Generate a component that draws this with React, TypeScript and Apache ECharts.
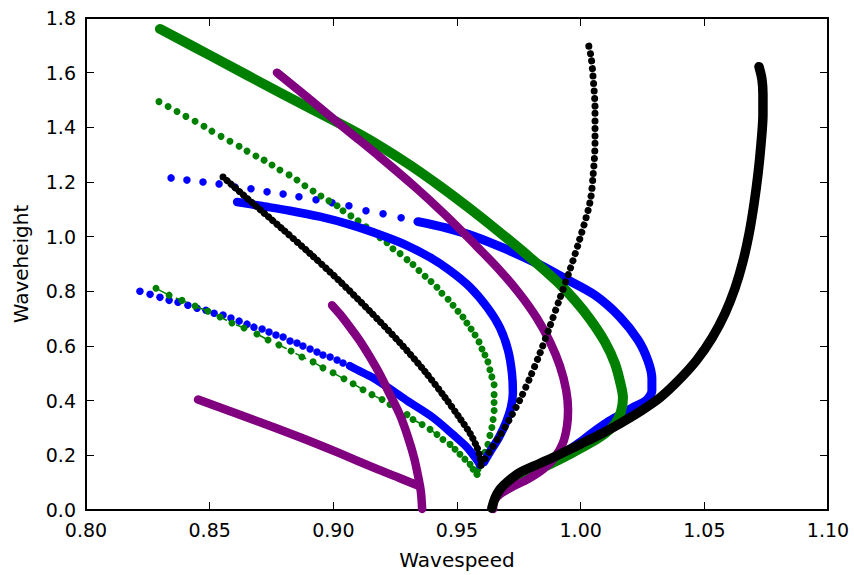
import React, { useEffect, useRef } from "react";
import * as echarts from "echarts";

const xTickLabels = ["0.80", "0.85", "0.90", "0.95", "1.00", "1.05", "1.10"];
const yTickLabels = ["0.0", "0.2", "0.4", "0.6", "0.8", "1.0", "1.2", "1.4", "1.6", "1.8"];

// Blue: sparse lower branch dots
const blueLowerDots = [
  [0.8218, 0.8], [0.8259, 0.789], [0.8299, 0.778], [0.8336, 0.767], [0.8372, 0.76], [0.8412, 0.749],
  [0.8449, 0.738], [0.8485, 0.731], [0.8518, 0.72], [0.8554, 0.713], [0.8586, 0.702], [0.8619, 0.691],
  [0.8651, 0.68], [0.8679, 0.669], [0.8712, 0.662], [0.874, 0.651], [0.8768, 0.64], [0.8797, 0.633],
  [0.8825, 0.618], [0.8853, 0.611], [0.8877, 0.6], [0.8906, 0.589], [0.8934, 0.578], [0.8958, 0.567],
  [0.8987, 0.56], [0.9015, 0.549], [0.9039, 0.538], [0.9067, 0.527],
];
// Blue: dense continuation of lower branch
const blueLowerDense = [
  [0.9067, 0.527], [0.9096, 0.513], [0.916, 0.484], [0.9241, 0.436], [0.9298, 0.4], [0.9403, 0.338],
  [0.9484, 0.276], [0.9541, 0.229], [0.9581, 0.182], [0.9592, 0.165],
];
// Blue: middle branch
const blueMiddle = [
  [0.8611, 1.127], [0.8704, 1.113], [0.8825, 1.095], [0.8946, 1.073], [0.9067, 1.044], [0.9189, 1.007],
  [0.929, 0.971], [0.9391, 0.924], [0.9472, 0.876], [0.9553, 0.815], [0.9625, 0.738], [0.9674, 0.666],
  [0.9706, 0.586], [0.9722, 0.502], [0.9726, 0.429], [0.9718, 0.375], [0.9698, 0.32], [0.967, 0.266],
  [0.9637, 0.218], [0.9609, 0.175],
];
// Blue: upper branch, sparse head
const blueUpperDots = [
  [0.8344, 1.215], [0.8408, 1.207], [0.8473, 1.2], [0.8538, 1.193], [0.8602, 1.182], [0.8667, 1.175],
  [0.8732, 1.164], [0.8797, 1.156], [0.8861, 1.146], [0.893, 1.135], [0.8995, 1.124], [0.9063, 1.113],
  [0.9132, 1.095], [0.9201, 1.084], [0.9274, 1.069],
];
// Blue: upper branch, dense body
const blueUpperDense = [
  [0.9342, 1.055], [0.9452, 1.033], [0.9573, 1.0], [0.9694, 0.956], [0.9815, 0.906], [0.9937, 0.847],
  [1.0058, 0.786], [1.0159, 0.706], [1.0232, 0.622], [1.0272, 0.546], [1.0288, 0.48], [1.0288, 0.436],
  [1.0272, 0.407], [1.0252, 0.393], [1.0212, 0.375], [1.0171, 0.353], [1.0107, 0.32], [1.005, 0.284],
  [0.9997, 0.247], [0.9957, 0.222], [0.9916, 0.2],
];

// Green: lower sparse branch
const greenLowerDots = [
  [0.8283, 0.811], [0.8336, 0.786], [0.8388, 0.767], [0.8441, 0.746], [0.8493, 0.727], [0.8542, 0.706],
  [0.859, 0.684], [0.8639, 0.666], [0.8691, 0.644], [0.8736, 0.622], [0.878, 0.604], [0.8829, 0.582],
  [0.8873, 0.56], [0.8918, 0.542], [0.8958, 0.52], [0.8999, 0.502], [0.9043, 0.48], [0.908, 0.462],
  [0.912, 0.44], [0.9156, 0.422], [0.9197, 0.404], [0.9229, 0.386], [0.9261, 0.367], [0.9298, 0.349],
  [0.9322, 0.331], [0.9359, 0.313], [0.9391, 0.295], [0.9419, 0.276], [0.9443, 0.258], [0.9472, 0.24],
  [0.9492, 0.222], [0.9512, 0.204], [0.9532, 0.186], [0.9553, 0.167], [0.9565, 0.149], [0.9581, 0.131],
];
// Green: upper sparse branch
const greenUpperDots = [
  [0.8295, 1.494], [0.8332, 1.476], [0.8368, 1.458], [0.8404, 1.44], [0.8441, 1.422], [0.8477, 1.404],
  [0.8509, 1.386], [0.8546, 1.367], [0.8582, 1.349], [0.8619, 1.331], [0.8651, 1.313], [0.8687, 1.295],
  [0.872, 1.28], [0.8752, 1.262], [0.8784, 1.244], [0.8821, 1.226], [0.8853, 1.207], [0.8885, 1.186],
  [0.8918, 1.167], [0.895, 1.149], [0.8982, 1.131], [0.9015, 1.113], [0.9039, 1.095], [0.9071, 1.076],
  [0.91, 1.058], [0.9132, 1.036], [0.916, 1.018], [0.9189, 0.996], [0.9217, 0.978], [0.9241, 0.956],
  [0.927, 0.938], [0.9298, 0.916], [0.9322, 0.898], [0.9346, 0.876], [0.9371, 0.855], [0.9395, 0.836],
  [0.9419, 0.815], [0.9439, 0.793], [0.9464, 0.771], [0.9484, 0.749], [0.9504, 0.727], [0.9524, 0.706],
  [0.954, 0.684], [0.9557, 0.662], [0.9573, 0.64], [0.9589, 0.615], [0.9601, 0.589], [0.9613, 0.567],
  [0.9625, 0.542], [0.9633, 0.513], [0.9641, 0.487], [0.965, 0.458], [0.965, 0.422], [0.965, 0.393],
  [0.965, 0.364], [0.9646, 0.331], [0.9641, 0.302], [0.9633, 0.273], [0.9625, 0.24], [0.9613, 0.211],
  [0.9601, 0.182], [0.9585, 0.149], [0.9581, 0.131],
];
// Green: thick dense branch
const greenThick = [
  [0.8299, 1.76], [0.8513, 1.658], [0.8784, 1.527], [0.9108, 1.374], [0.9298, 1.269], [0.9431, 1.185],
  [0.9553, 1.102], [0.9674, 1.015], [0.9795, 0.924], [0.9904, 0.836], [0.9977, 0.767], [1.0038, 0.698],
  [1.0098, 0.615], [1.0139, 0.535], [1.0163, 0.455], [1.0171, 0.411], [1.0163, 0.36], [1.0139, 0.315],
  [1.0098, 0.28], [1.0038, 0.245], [0.9957, 0.205], [0.9876, 0.168], [0.9795, 0.132], [0.9755, 0.115],
];

// Purple branches
const purpleLeft = [
  [0.8453, 0.404], [0.8663, 0.335], [0.8865, 0.266], [0.9027, 0.207], [0.9168, 0.153], [0.927, 0.116],
  [0.935, 0.087],
];
const purpleMid = [
  [0.8995, 0.749], [0.9027, 0.716], [0.9067, 0.669], [0.9108, 0.618], [0.9148, 0.56], [0.9189, 0.495],
  [0.9229, 0.422], [0.927, 0.346], [0.9302, 0.266], [0.9326, 0.193], [0.9342, 0.127], [0.9354, 0.066],
  [0.9359, 0.004],
];
const purpleThick = [
  [0.8772, 1.6], [0.8906, 1.502], [0.9047, 1.396], [0.9189, 1.291], [0.933, 1.182], [0.9452, 1.08],
  [0.9573, 0.971], [0.9674, 0.876], [0.9755, 0.789], [0.9823, 0.702], [0.9876, 0.615], [0.9916, 0.527],
  [0.9941, 0.44], [0.9949, 0.367], [0.9945, 0.309], [0.9929, 0.247], [0.9896, 0.193], [0.9848, 0.149],
  [0.9787, 0.113], [0.9722, 0.084], [0.9674, 0.058], [0.965, 0.033], [0.9646, 0.004],
];

// Black branches
const blackDown = [
  [0.8554, 1.218], [0.8663, 1.131], [0.8784, 1.036], [0.8906, 0.938], [0.9027, 0.836], [0.9148, 0.727],
  [0.927, 0.611], [0.9371, 0.506], [0.9452, 0.411], [0.9512, 0.335], [0.9553, 0.28], [0.9581, 0.229],
  [0.9593, 0.193], [0.9597, 0.164],
];
const blackUp = [
  [0.9597, 0.164], [0.9633, 0.215], [0.9674, 0.273], [0.9714, 0.335], [0.9755, 0.404], [0.9795, 0.484],
  [0.9836, 0.575], [0.9876, 0.673], [0.9916, 0.775], [0.9957, 0.88], [0.9997, 0.993], [1.0038, 1.127],
  [1.005, 1.222], [1.0058, 1.346], [1.0058, 1.466], [1.005, 1.586], [1.0042, 1.658], [1.003, 1.709],
];
const blackThick = [
  [0.9641, 0.007], [0.9654, 0.044], [0.9674, 0.076], [0.9706, 0.105], [0.9755, 0.138], [0.9836, 0.171],
  [0.9916, 0.204], [0.9997, 0.24], [1.0078, 0.276], [1.0159, 0.316], [1.024, 0.36], [1.0321, 0.411],
  [1.0402, 0.48], [1.047, 0.549], [1.0531, 0.629], [1.0584, 0.72], [1.0624, 0.811], [1.0656, 0.909],
  [1.0681, 1.011], [1.0701, 1.12], [1.0717, 1.229], [1.0729, 1.338], [1.0737, 1.447], [1.0737, 1.52],
  [1.0733, 1.575], [1.0721, 1.622],
];

const BLUE = "#0000ff";
const GREEN = "#008000";
const PURPLE = "#800080";
const BLACK = "#000000";
const FONT = "DejaVu Sans";

function thick(data: number[][], color: string, width: number) {
  return {
    type: "line",
    data,
    smooth: 0.3,
    symbol: "none",
    showSymbol: false,
    lineStyle: { color, width, cap: "round", join: "round" },
  };
}
function dotted(data: number[][], color: string, width: number, gap: number) {
  return {
    type: "line",
    data,
    smooth: 0.3,
    symbol: "none",
    showSymbol: false,
    lineStyle: { color, width, cap: "round", join: "round", type: [0.001, gap] },
  };
}
function dots(data: number[][], color: string, size: number) {
  return {
    type: "scatter",
    data,
    symbol: "circle",
    symbolSize: size,
    itemStyle: { color, opacity: 1 },
  };
}

export default function App() {
  const ref = useRef<HTMLDivElement>(null);
  useEffect(() => {
    if (!ref.current) return;
    const chart = echarts.init(ref.current, undefined, { renderer: "svg" });
    const axisCommon = {
      type: "value",
      splitLine: { show: false },
      axisLine: { show: true, onZero: false, lineStyle: { color: BLACK, width: 2 } },
      axisTick: { show: true, inside: true, length: 8, lineStyle: { color: BLACK, width: 1 } },
    };
    chart.setOption({
      animation: false,
      backgroundColor: "#ffffff",
      grid: { left: 86, right: 26, top: 18, bottom: 62, containLabel: false },
      xAxis: [
        {
          ...axisCommon,
          min: 0.8,
          max: 1.1,
          interval: 0.05,
          position: "bottom",
          name: "Wavespeed",
          nameLocation: "middle",
          nameGap: 40,
          nameTextStyle: { fontFamily: FONT, fontSize: 20, color: BLACK },
          axisLabel: {
            margin: 10,
            fontFamily: FONT,
            fontSize: 19,
            color: BLACK,
            formatter: (v: number) => xTickLabels[Math.round((v - 0.8) / 0.05)] ?? "",
          },
        },
        {
          ...axisCommon,
          min: 0.8,
          max: 1.1,
          interval: 0.05,
          position: "top",
          axisLabel: { show: false },
        },
      ],
      yAxis: [
        {
          ...axisCommon,
          min: 0,
          max: 1.8,
          interval: 0.2,
          position: "left",
          name: "Waveheight",
          nameLocation: "middle",
          nameGap: 55,
          nameTextStyle: { fontFamily: FONT, fontSize: 20, color: BLACK },
          axisLabel: {
            margin: 10,
            fontFamily: FONT,
            fontSize: 19,
            color: BLACK,
            formatter: (v: number) => yTickLabels[Math.round(v / 0.2)] ?? "",
          },
        },
        {
          ...axisCommon,
          min: 0,
          max: 1.8,
          interval: 0.2,
          position: "right",
          axisLabel: { show: false },
        },
      ],
      series: [
        dots(blueLowerDots, BLUE, 7.5),
        thick(blueLowerDense, BLUE, 8),
        thick(blueMiddle, BLUE, 8.5),
        dots(blueUpperDots, BLUE, 7.5),
        thick(blueUpperDense, BLUE, 9),
        {
          type: "line",
          data: greenLowerDots,
          symbol: "none",
          showSymbol: false,
          lineStyle: { color: GREEN, width: 1.5, type: [12, 10] },
        },
        dots(greenLowerDots, GREEN, 7),
        dots(greenUpperDots, GREEN, 7),
        thick(greenThick, GREEN, 10),
        thick(purpleLeft, PURPLE, 8.5),
        thick(purpleMid, PURPLE, 8.5),
        thick(purpleThick, PURPLE, 8.5),
        thick(blackThick, BLACK, 9.5),
        dotted(blackDown, BLACK, 7, 5.5),
        dotted(blackUp, BLACK, 7, 7.5),
      ],
    });
    return () => chart.dispose();
  }, []);
  return (
    <div
      ref={ref}
      style={{ position: "absolute", left: 0, top: 0, width: 854, height: 575, background: "#fff" }}
    />
  );
}
